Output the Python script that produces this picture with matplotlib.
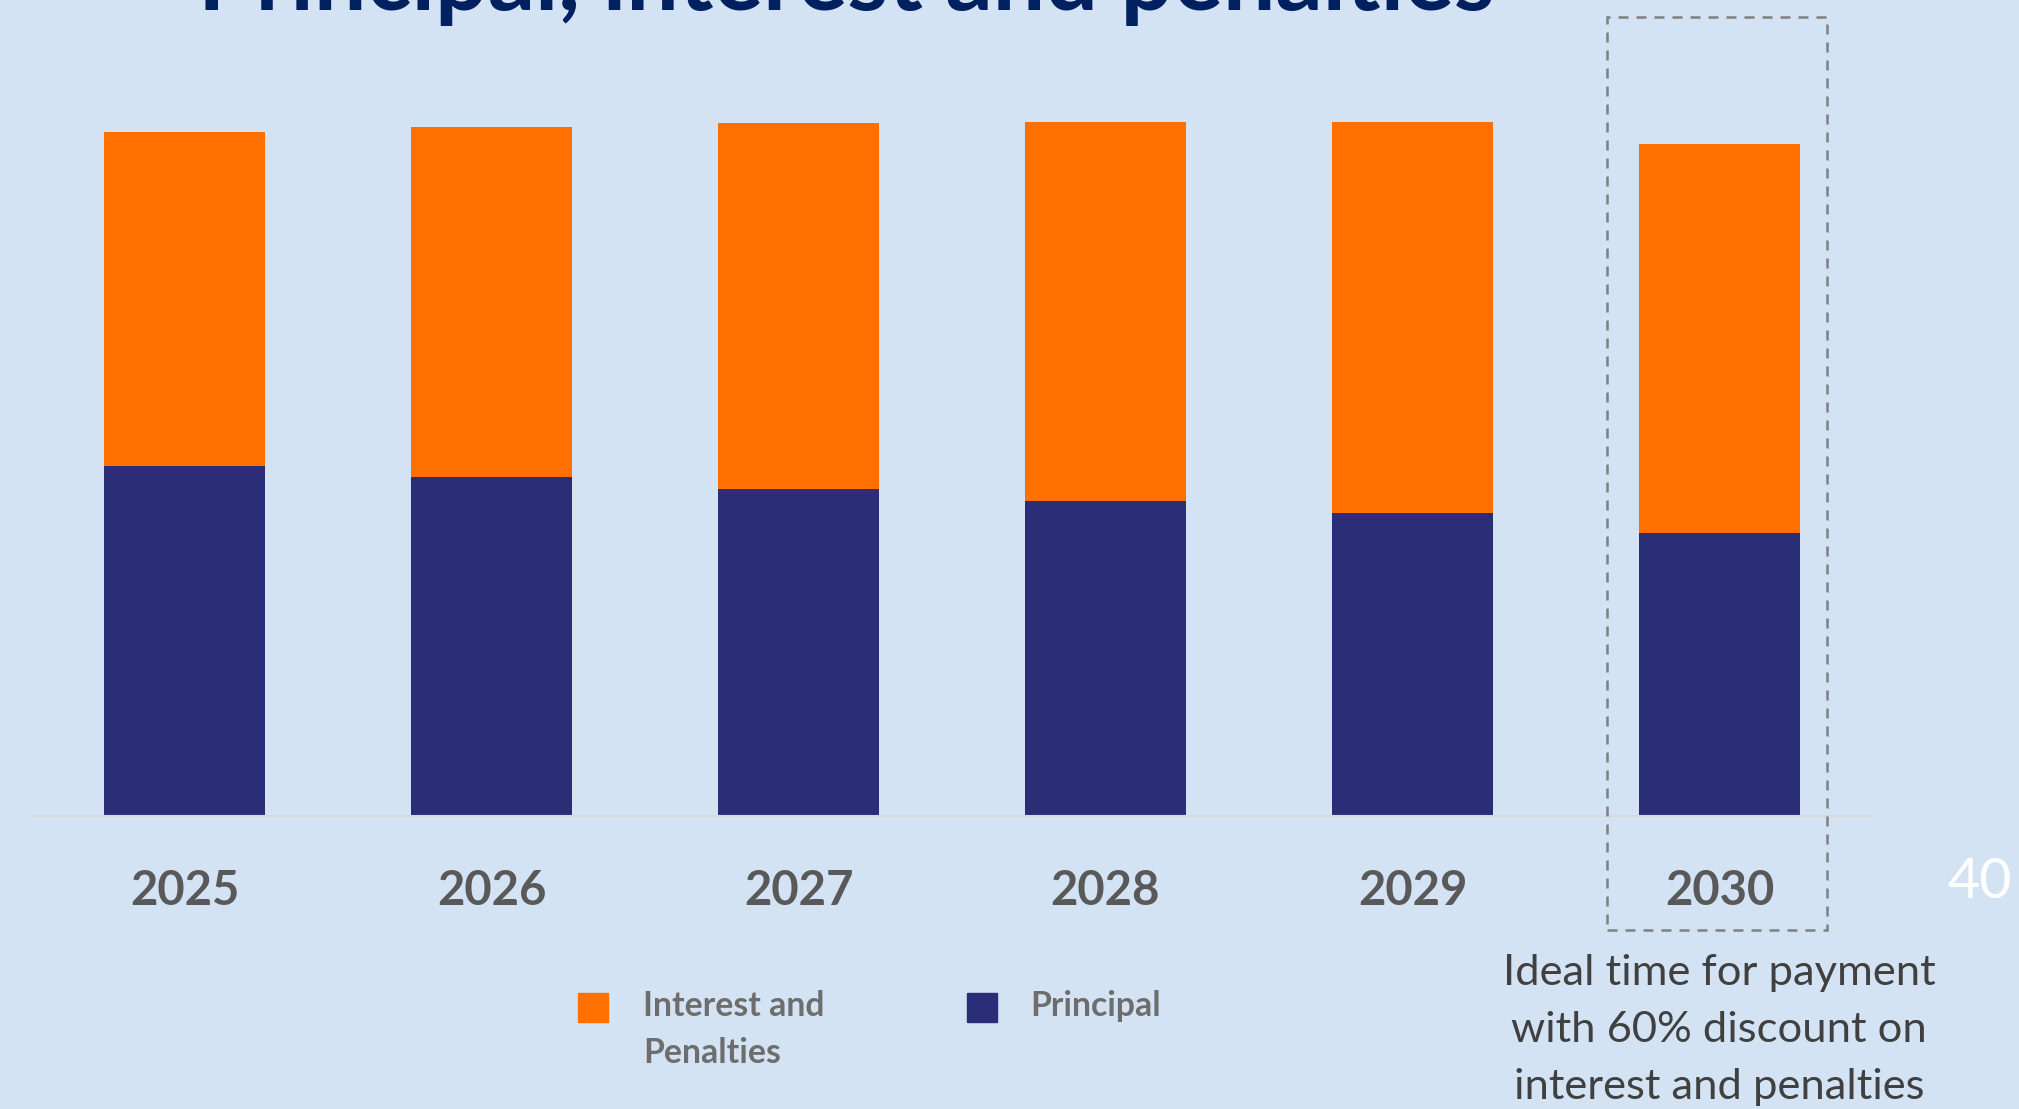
import numpy as np
import matplotlib.pyplot as plt
from matplotlib.patches import Rectangle

# values (arbitrary units)
years = ['2025', '2026', '2027', '2028', '2029', '2030']
principal = [27.2, 26.3, 25.4, 24.5, 23.5, 22.0]
interest = [25.9, 27.2, 28.4, 29.4, 30.4, 30.2]

bg = '#D4E3F3'
orange = '#FF7000'
navy = '#2B2D77'

W, H = 2019, 1109
fig = plt.figure(figsize=(W / 100, H / 100), dpi=100, facecolor=bg)

# axes placed in pixel units of the figure
left, right, bottom, top = 31, 1873, 816, 17
ax = fig.add_axes([left / W, 1 - bottom / H, (right - left) / W, (bottom - top) / H])
ax.set_facecolor(bg)

x = np.arange(len(years))
ax.bar(x, principal, width=0.525, color=navy, zorder=2)
ax.bar(x, interest, width=0.525, bottom=principal, color=orange, zorder=2)

ax.set_xlim(-0.5, 5.5)
ax.set_ylim(0, 62.05)
for s in ['top', 'right', 'left']:
    ax.spines[s].set_visible(False)
ax.spines['bottom'].set_color('#D9D9D9')
ax.spines['bottom'].set_linewidth(1.5)
ax.set_yticks([])
ax.set_xticks(x)
ax.set_xticklabels(years, fontsize=34, fontweight='bold', color='#595959', family='Lato')
ax.tick_params(axis='x', length=0, pad=38)

# dashed box around 2030
fig.add_artist(Rectangle((1607 / W, 1 - 930 / H), (1827 - 1607) / W, (930 - 17) / H,
                         transform=fig.transFigure, fill=False, edgecolor='#808080',
                         linewidth=1.8, linestyle=(0, (4, 3.2))))

# title, cut off at the top edge
fig.text(198 / W, 1 - 10 / H, 'Principal, interest and penalties', ha='left', va='baseline',
         fontsize=67, fontweight='bold', color='#002060', family='Lato')

# legend drawn by hand
fig.add_artist(Rectangle((578 / W, 1 - 1022 / H), 30 / W, 29 / H, transform=fig.transFigure,
                         color=orange))
fig.add_artist(Rectangle((967 / W, 1 - 1022 / H), 30 / W, 29 / H, transform=fig.transFigure,
                         color=navy))
fig.text(643 / W, 1 - 990 / H, 'Interest and\nPenalties', ha='left', va='top', fontsize=24.3,
         fontweight='bold', color='#6D6D6D', family='Lato', linespacing=1.58)
fig.text(1030 / W, 1 - 990 / H, 'Principal', ha='left', va='top', fontsize=24.3,
         fontweight='bold', color='#6D6D6D', family='Lato')

# note under 2030
fig.text(1719 / W, 1 - 1030 / H, 'Ideal time for payment\nwith 60% discount on\ninterest and penalties',
         ha='center', va='center', fontsize=31.3, color='#404040', family='Lato', linespacing=1.6)

# page number
fig.text(2012 / W, 1 - 882 / H, '40', ha='right', va='center', fontsize=40, color='white',
         family='Lato')

fig.savefig('out.png', dpi=100, facecolor=bg)
